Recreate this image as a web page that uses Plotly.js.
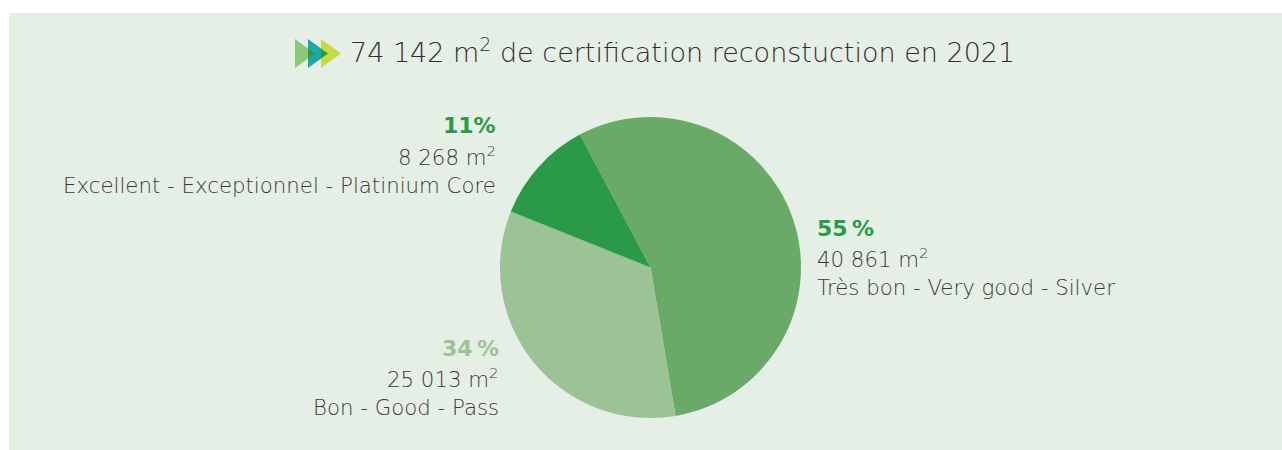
<!DOCTYPE html>
<html>
<head>
<meta charset="utf-8">
<script src="https://cdn.plot.ly/plotly-3.0.1.min.js"></script>
<style>
  html, body { margin: 0; padding: 0; background: #ffffff; width: 1282px; height: 450px; overflow: hidden; }
  #chart { position: absolute; left: 9px; top: 13px; width: 1273px; height: 437px; }
</style>
</head>
<body>
<div id="chart"></div>
<script>
// ---- data ----
const titleText = '74 142 m<sup>2</sup> de certification reconstuction en 2021';
const categories = ['Très bon - Very good - Silver', 'Bon - Good - Pass', 'Excellent - Exceptionnel - Platinium Core'];
const areas = [40861, 25013, 8268];
const percentLabels = ['55\u2009%', '34\u2009%', '11%'];
const sliceColors = ['#6aaa68', '#9bc395', '#2a9a48'];
const percentColors = ['#2a9a48', '#9bc395', '#2a9a48'];

// ---- helpers ----
const W = 1273, H = 437, OX = 9, OY = 13;
const px = x => (x - OX) / W;
const py = y => 1 - (y - OY) / H;
function fmt(n) {
  return String(n).replace(/\B(?=(\d{3})+(?!\d))/g, ' ');
}
const FONT = '"DejaVu Sans", sans-serif';
const GREY = '#3a3a3a';

// label block positions (anchor x, first-line center y, side)
const labelPos = [
  { x: 817, y: 228, anchor: 'left' },
  { x: 499, y: 348, anchor: 'right' },
  { x: 496, y: 126, anchor: 'right' }
];
const LINE = 29.5;
const TXT = 21.3;

const annotations = [];
categories.forEach((cat, i) => {
  const p = labelPos[i];
  const base = { xref: 'paper', yref: 'paper', x: px(p.x), xanchor: p.anchor, yanchor: 'middle',
                 showarrow: false, borderpad: 0, borderwidth: 0 };
  annotations.push(Object.assign({}, base, {
    y: py(p.y), text: percentLabels[i],
    font: { family: FONT, size: 22, weight: 700, color: percentColors[i] }
  }));
  annotations.push(Object.assign({}, base, {
    y: py(p.y + LINE), text: fmt(areas[i]) + ' m<sup>2</sup>',
    font: { family: FONT, size: TXT, weight: 200, color: GREY }
  }));
  annotations.push(Object.assign({}, base, {
    y: py(p.y + 2 * LINE), text: cat,
    font: { family: FONT, size: TXT, weight: 200, color: GREY }
  }));
});

// arrow icon (decoration)
function tri(x0, x1, y0, y1, color) {
  const ym = (y0 + y1) / 2;
  return {
    type: 'path', xref: 'paper', yref: 'paper', line: { width: 0 }, fillcolor: color,
    path: `M ${px(x0)} ${py(y0)} L ${px(x1)} ${py(ym)} L ${px(x0)} ${py(y1)} Z`
  };
}
function tipTri(xl, x0, x1, y0, y1, color) {
  const ym = (y0 + y1) / 2;
  const t = (xl - x0) / (x1 - x0);
  const ya = y0 + (ym - y0) * t, yb = y1 - (y1 - ym) * t;
  return {
    type: 'path', xref: 'paper', yref: 'paper', line: { width: 0 }, fillcolor: color,
    path: `M ${px(xl)} ${py(ya)} L ${px(x1)} ${py(ym)} L ${px(xl)} ${py(yb)} Z`
  };
}
const shapes = [
  tri(295, 315, 39, 68, '#8cc97a'),
  tri(308, 328, 39, 68, '#1fa8a3'),
  tipTri(308, 295, 315, 39, 68, '#2a9a48'),
  tri(321, 341, 39, 68, '#c6da48'),
  tipTri(321, 308, 328, 39, 68, '#2a9a48')
];

const data = [{
  type: 'pie',
  values: areas,
  labels: categories,
  sort: false,
  direction: 'clockwise',
  rotation: -28,
  marker: { colors: sliceColors, line: { width: 0 } },
  textinfo: 'none',
  hoverinfo: 'skip',
  showlegend: false,
  domain: { x: [px(500), px(801)], y: [py(418), py(117)] }
}];

const layout = {
  width: W, height: H,
  margin: { l: 0, r: 0, t: 0, b: 0 },
  paper_bgcolor: '#e5efe5',
  plot_bgcolor: '#e5efe5',
  showlegend: false,
  title: {
    text: titleText,
    x: px(350), xanchor: 'left', xref: 'paper',
    y: py(53), yanchor: 'middle', yref: 'paper',
    font: { family: FONT, size: 27, weight: 200, color: '#2e2e2e' }
  },
  annotations: annotations,
  shapes: shapes
};

Plotly.newPlot('chart', data, layout, { staticPlot: true, displayModeBar: false });
</script>
</body>
</html>
